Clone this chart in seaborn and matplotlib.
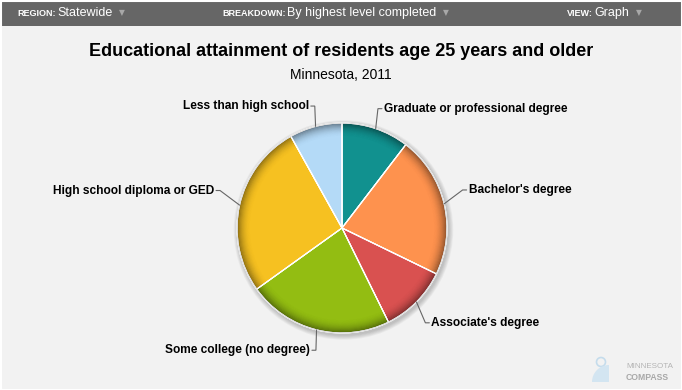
import numpy as np
import matplotlib
matplotlib.use("Agg")
import matplotlib.pyplot as plt
from matplotlib.patches import Wedge, Circle, Rectangle
import seaborn as sns

# ---------------- data ----------------
categories = ["Graduate or professional degree", "Bachelor's degree", "Associate's degree",
              "Some college (no degree)", "High school diploma or GED", "Less than high school"]
shares = [10.4, 21.8, 10.5, 22.4, 26.8, 8.1]
slice_colors = ["#11918f", "#fe924e", "#d95150", "#93bd12", "#f6c121", "#b4daf7"]

title = "Educational attainment of residents age 25 years and older"
subtitle = "Minnesota, 2011"
filter_names = ["REGION:", "BREAKDOWN:", "VIEW:"]
filter_values = ["Statewide", "By highest level completed", "Graph"]

# ---------------- layout ----------------
W, H = 682, 390
cx, cy, R = 342, H - 228, 105
filter_x = [17, 222, 567]
# label nudges (px, y measured downward)
label_nudges = [(-4.5, 0), (-2, -9), (-6, 6), (4.5, 0), (1, -10), (4.5, 0)]

sns.set_theme(style="white")
plt.rcParams['font.family'] = ['Liberation Sans', 'DejaVu Sans']
palette = sns.color_palette(slice_colors)

fig = plt.figure(figsize=(W / 100, H / 100), dpi=100)
fig.patch.set_facecolor("#f2f2f2")
ax = fig.add_axes([0, 0, 1, 1])
ax.set_facecolor("#f2f2f2")

# drop shadow
for i in range(6, 0, -1):
    ax.add_patch(Circle((cx + 1.5, cy - 2), R + i * 0.8, color="#000000", alpha=0.035, lw=0, zorder=1))

wedges, _ = ax.pie(shares, colors=palette, startangle=90, counterclock=False,
                   center=(cx, cy), radius=R, frame=True,
                   wedgeprops=dict(edgecolor="white", linewidth=0.8, zorder=2))
ax.set_xlim(0, W)
ax.set_ylim(0, H)
ax.set_aspect("auto")

# rim shading
nr = 14
for w in wedges:
    for k in range(nr):
        r_out = R - k * 1.0
        a = 0.45 * ((nr - k) / nr) ** 2.2
        ax.add_patch(Wedge((cx, cy), r_out, w.theta1, w.theta2, width=1.0,
                           color="black", alpha=a, lw=0, zorder=3))
    ax.add_patch(Wedge((cx, cy), R, w.theta1, w.theta2, fill=False,
                       edgecolor="white", linewidth=0.8, zorder=4))
ax.add_patch(Circle((cx, cy), R, fill=False, edgecolor="#dddddd", lw=0.7, zorder=4))

# labels with connectors
for w, name, (dx, dy) in zip(wedges, categories, label_nudges):
    mid = np.deg2rad((w.theta1 + w.theta2) / 2)
    ex, ey = cx + R * np.cos(mid), cy + R * np.sin(mid)
    lx = cx + 1.2 * R * np.cos(mid) + dx
    ly = cy + 1.2 * R * np.sin(mid) - dy
    right = np.cos(mid) >= 0
    s = 1 if right else -1
    ax.plot([ex, lx, lx + s * 4], [ey, ly, ly], color="#666666", lw=0.8, zorder=5,
            solid_joinstyle="miter")
    ax.text(lx + s * 6, ly, name, ha="left" if right else "right", va="center",
            fontsize=8.6, fontweight="bold", color="#000000", zorder=6)

# header bar
ax.add_patch(Rectangle((0, H - 26), W, 26, color="#666666", lw=0, zorder=7))
ax.set_axis_off()
fig.canvas.draw()
renderer = fig.canvas.get_renderer()
inv = ax.transData.inverted()
for x0, nm, val in zip(filter_x, filter_names, filter_values):
    t1 = ax.text(x0, H - 13.5, nm, fontsize=6.5, color="white", va="center", ha="left",
                 zorder=8, fontweight="bold")
    bb = t1.get_window_extent(renderer)
    x1 = inv.transform((bb.x1, 0))[0] + 1.5
    t2 = ax.text(x1, H - 13, val, fontsize=9.0, color="white", va="center", ha="left", zorder=8)
    bb2 = t2.get_window_extent(renderer)
    x2 = inv.transform((bb2.x1, 0))[0] + 7
    ax.text(x2, H - 13, "\u25bc", fontsize=5.5, color="#a8a8a8", va="center", ha="left",
            zorder=8, family=["DejaVu Sans"])

# titles
ax.text(W / 2, H - 52, title, ha="center", va="center", fontsize=13, fontweight="bold",
        color="#000000", zorder=8)
ax.text(W / 2, H - 75, subtitle, ha="center", va="center", fontsize=10, color="#000000", zorder=8)

# watermark
ax.add_patch(Circle((601, H - 362), 4.5, fill=False, edgecolor="#c5dcec", lw=1.2, zorder=8))
ax.add_patch(Wedge((609, H - 382), 17, 90, 180, color="#d3e5f1", lw=0, zorder=8))
ax.text(626, H - 367, "MINNESOTA", fontsize=5.8, color="#b4b4b4", va="center", ha="left", zorder=8)
ax.text(626, H - 378, "COMPASS", fontsize=6.2, color="#a8a8a8", va="center", ha="left",
        fontweight="bold", zorder=8)

# white frame
ax.add_patch(Rectangle((0.5, 0.5), W - 1, H - 1, fill=False, edgecolor="white", lw=1.5, zorder=9))

fig.savefig("out.png", dpi=100, facecolor=fig.get_facecolor())
